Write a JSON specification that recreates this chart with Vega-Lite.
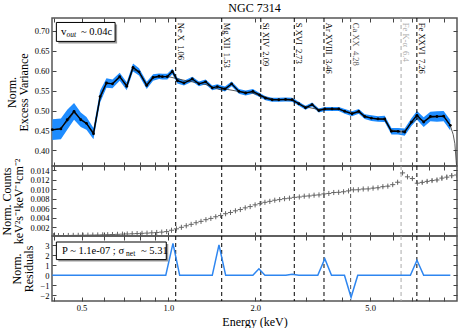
{
"$schema": "https://vega.github.io/schema/vega-lite/v6.json",
"autosize": {"type": "pad"},
"padding": {"left": 0, "top": 0, "right": 0, "bottom": 0},
"background": "white",
"spacing": -2,
"bounds": "flush",
"config": {
  "view": {"stroke": "#555", "strokeWidth": 1.5},
  "axis": {"labelFont": "Liberation Serif", "labelFontSize": 8.5, "labelColor": "#000", "titleFont": "Liberation Serif", "titleFontSize": 12, "titleFontWeight": "normal", "titleColor": "#000", "titleLineHeight": 12, "tickColor": "#444", "tickWidth": 1, "tickSize": -4, "labelPadding": 7, "domain": false, "grid": false, "titlePadding": 4}
},
"datasets": {
  "ev": [
    {"E":0.396,"val":0.452,"err":0.026},{"E":0.424,"val":0.454,"err":0.026},{"E":0.446,"val":0.477,"err":0.025},{"E":0.471,"val":0.498,"err":0.021},{"E":0.497,"val":0.477,"err":0.018},{"E":0.520,"val":0.468,"err":0.016},{"E":0.550,"val":0.442,"err":0.014},{"E":0.580,"val":0.535,"err":0.015},{"E":0.610,"val":0.569,"err":0.012},{"E":0.640,"val":0.567,"err":0.011},{"E":0.678,"val":0.585,"err":0.010},{"E":0.717,"val":0.561,"err":0.010},{"E":0.754,"val":0.608,"err":0.010},{"E":0.791,"val":0.597,"err":0.009},{"E":0.841,"val":0.563,"err":0.009},{"E":0.885,"val":0.583,"err":0.008},{"E":0.928,"val":0.586,"err":0.007},{"E":0.953,"val":0.585,"err":0.007},{"E":0.991,"val":0.585,"err":0.007},{"E":1.032,"val":0.598,"err":0.007},{"E":1.074,"val":0.575,"err":0.007},{"E":1.132,"val":0.569,"err":0.006},{"E":1.210,"val":0.579,"err":0.006},{"E":1.276,"val":0.567,"err":0.006},{"E":1.346,"val":0.572,"err":0.006},{"E":1.419,"val":0.557,"err":0.006},{"E":1.477,"val":0.560,"err":0.006},{"E":1.570,"val":0.554,"err":0.006},{"E":1.656,"val":0.567,"err":0.006},{"E":1.756,"val":0.548,"err":0.006},{"E":1.852,"val":0.544,"err":0.006},{"E":1.962,"val":0.548,"err":0.006},{"E":2.070,"val":0.539,"err":0.005},{"E":2.171,"val":0.531,"err":0.005},{"E":2.288,"val":0.527,"err":0.005},{"E":2.413,"val":0.527,"err":0.005},{"E":2.546,"val":0.528,"err":0.005},{"E":2.684,"val":0.527,"err":0.005},{"E":2.831,"val":0.517,"err":0.005},{"E":2.986,"val":0.507,"err":0.005},{"E":3.147,"val":0.515,"err":0.005},{"E":3.320,"val":0.500,"err":0.005},{"E":3.483,"val":0.504,"err":0.005},{"E":3.691,"val":0.504,"err":0.005},{"E":3.894,"val":0.504,"err":0.005},{"E":4.085,"val":0.498,"err":0.006},{"E":4.329,"val":0.492,"err":0.006},{"E":4.566,"val":0.498,"err":0.006},{"E":4.790,"val":0.485,"err":0.006},{"E":5.052,"val":0.481,"err":0.007},{"E":5.325,"val":0.479,"err":0.007},{"E":5.617,"val":0.479,"err":0.008},{"E":5.926,"val":0.448,"err":0.008},{"E":6.245,"val":0.448,"err":0.008},{"E":6.588,"val":0.446,"err":0.009},{"E":6.950,"val":0.471,"err":0.010},{"E":7.266,"val":0.488,"err":0.011},{"E":7.665,"val":0.471,"err":0.012},{"E":8.086,"val":0.485,"err":0.012},{"E":8.522,"val":0.485,"err":0.013},{"E":8.990,"val":0.486,"err":0.013},{"E":9.481,"val":0.463,"err":0.013}
  ],
  "model": [
    {"E":0.40,"val":0.452},{"E":0.42,"val":0.455},{"E":0.45,"val":0.475},{"E":0.47,"val":0.495},{"E":0.50,"val":0.478},{"E":0.52,"val":0.467},{"E":0.55,"val":0.445},{"E":0.58,"val":0.532},{"E":0.61,"val":0.567},{"E":0.64,"val":0.568},{"E":0.68,"val":0.583},{"E":0.72,"val":0.563},{"E":0.75,"val":0.603},{"E":0.79,"val":0.597},{"E":0.84,"val":0.566},{"E":0.88,"val":0.582},{"E":0.93,"val":0.585},{"E":1.0,"val":0.585},{"E":1.07,"val":0.580},{"E":1.15,"val":0.575},{"E":1.25,"val":0.570},{"E":1.35,"val":0.565},{"E":1.45,"val":0.556},{"E":1.52,"val":0.552},{"E":1.6,"val":0.553},{"E":1.75,"val":0.548},{"E":1.95,"val":0.544},{"E":2.1,"val":0.537},{"E":2.3,"val":0.528},{"E":2.55,"val":0.527},{"E":2.7,"val":0.525},{"E":2.85,"val":0.516},{"E":3.0,"val":0.509},{"E":3.3,"val":0.503},{"E":3.6,"val":0.504},{"E":3.9,"val":0.503},{"E":4.1,"val":0.498},{"E":4.3,"val":0.494},{"E":4.6,"val":0.495},{"E":4.8,"val":0.485},{"E":5.1,"val":0.480},{"E":5.6,"val":0.477},{"E":5.9,"val":0.452},{"E":6.3,"val":0.447},{"E":6.6,"val":0.450},{"E":6.95,"val":0.468},{"E":7.3,"val":0.480},{"E":7.7,"val":0.474},{"E":8.1,"val":0.482},{"E":8.5,"val":0.485},{"E":9.0,"val":0.485},{"E":9.48,"val":0.462},{"E":9.7,"val":0.44},{"E":9.83,"val":0.417},{"E":9.93,"val":0.375},{"E":9.97,"val":0.361}
  ],
  "lines": [
    {"E":1.06,"label":"Ne X\u00a0\u00a01.06","cls":"a"},
    {"E":1.53,"label":"Mg XII\u00a0\u00a01.53","cls":"a"},
    {"E":2.09,"label":"Si XIV\u00a0\u00a02.09","cls":"a"},
    {"E":2.73,"label":"S XVI\u00a0\u00a02.73","cls":"a"},
    {"E":3.46,"label":"Ar XVIII\u00a0\u00a03.46","cls":"a"},
    {"E":4.28,"label":"Ca XX\u00a0\u00a04.28","cls":"b"},
    {"E":6.4,"label":"Fe K-\u03b1\u00a0\u00a06.4","cls":"c"},
    {"E":7.26,"label":"Fe XXVI\u00a0\u00a07.26","cls":"a"}
  ],
  "counts": [
    {"E":0.400,"val":0.00024,"err":0.00003},{"E":0.416,"val":0.00026,"err":0.00003},{"E":0.433,"val":0.00027,"err":0.00003},{"E":0.450,"val":0.00028,"err":0.00003},{"E":0.468,"val":0.00030,"err":0.00003},{"E":0.487,"val":0.00031,"err":0.00003},{"E":0.506,"val":0.00033,"err":0.00003},{"E":0.526,"val":0.00035,"err":0.00003},{"E":0.547,"val":0.00037,"err":0.00003},{"E":0.569,"val":0.00039,"err":0.00003},{"E":0.592,"val":0.00042,"err":0.00003},{"E":0.616,"val":0.00045,"err":0.00003},{"E":0.640,"val":0.00048,"err":0.00003},{"E":0.666,"val":0.00052,"err":0.00003},{"E":0.693,"val":0.00056,"err":0.00003},{"E":0.720,"val":0.00060,"err":0.00003},{"E":0.749,"val":0.00064,"err":0.00003},{"E":0.779,"val":0.00068,"err":0.00003},{"E":0.810,"val":0.00073,"err":0.00003},{"E":0.843,"val":0.00078,"err":0.00003},{"E":0.876,"val":0.00084,"err":0.00003},{"E":0.911,"val":0.00091,"err":0.00003},{"E":0.948,"val":0.00099,"err":0.00003},{"E":0.986,"val":0.00110,"err":0.00003},{"E":1.025,"val":0.00138,"err":0.00005},{"E":1.066,"val":0.00168,"err":0.00005},{"E":1.109,"val":0.00200,"err":0.00005},{"E":1.153,"val":0.00232,"err":0.00005},{"E":1.199,"val":0.00262,"err":0.00005},{"E":1.247,"val":0.00296,"err":0.00005},{"E":1.297,"val":0.00325,"err":0.00005},{"E":1.349,"val":0.00360,"err":0.00005},{"E":1.403,"val":0.00387,"err":0.00005},{"E":1.459,"val":0.00422,"err":0.00005},{"E":1.517,"val":0.00449,"err":0.00005},{"E":1.578,"val":0.00486,"err":0.00005},{"E":1.641,"val":0.00512,"err":0.00005},{"E":1.707,"val":0.00547,"err":0.00005},{"E":1.775,"val":0.00574,"err":0.00005},{"E":1.846,"val":0.00609,"err":0.00005},{"E":1.920,"val":0.00636,"err":0.00005},{"E":1.997,"val":0.00672,"err":0.00005},{"E":2.077,"val":0.00698,"err":0.00005},{"E":2.160,"val":0.00726,"err":0.00005},{"E":2.246,"val":0.00746,"err":0.00005},{"E":2.336,"val":0.00770,"err":0.00005},{"E":2.429,"val":0.00783,"err":0.00005},{"E":2.526,"val":0.00802,"err":0.00005},{"E":2.627,"val":0.00813,"err":0.00005},{"E":2.733,"val":0.00830,"err":0.00005},{"E":2.842,"val":0.00838,"err":0.00005},{"E":2.956,"val":0.00855,"err":0.00005},{"E":3.074,"val":0.00860,"err":0.00008},{"E":3.197,"val":0.00876,"err":0.00008},{"E":3.325,"val":0.00882,"err":0.00008},{"E":3.458,"val":0.00903,"err":0.00008},{"E":3.596,"val":0.00912,"err":0.00008},{"E":3.740,"val":0.00932,"err":0.00008},{"E":3.890,"val":0.00936,"err":0.00008},{"E":4.045,"val":0.00948,"err":0.00008},{"E":4.207,"val":0.00966,"err":0.00008},{"E":4.375,"val":0.00988,"err":0.00008},{"E":4.550,"val":0.00990,"err":0.00008},{"E":4.732,"val":0.01006,"err":0.00008},{"E":4.922,"val":0.01008,"err":0.00008},{"E":5.118,"val":0.01024,"err":0.00015},{"E":5.323,"val":0.01032,"err":0.00015},{"E":5.536,"val":0.01055,"err":0.00015},{"E":5.758,"val":0.01066,"err":0.00015},{"E":5.988,"val":0.01098,"err":0.00015},{"E":6.227,"val":0.01148,"err":0.00025},{"E":6.476,"val":0.01345,"err":0.00025},{"E":6.736,"val":0.01262,"err":0.00025},{"E":7.005,"val":0.01226,"err":0.00025},{"E":7.285,"val":0.01128,"err":0.00025},{"E":7.577,"val":0.01145,"err":0.00035},{"E":7.880,"val":0.01166,"err":0.00035},{"E":8.195,"val":0.01184,"err":0.00035},{"E":8.523,"val":0.01196,"err":0.00035},{"E":8.864,"val":0.01235,"err":0.0005},{"E":9.218,"val":0.01255,"err":0.0005},{"E":9.587,"val":0.01285,"err":0.0005},{"E":9.970,"val":0.01300,"err":0.0005}
  ],
  "resid": [
    {"E":0.396,"val":0},{"E":0.979,"val":0},{"E":1.037,"val":3.2},{"E":1.094,"val":0},{"E":1.419,"val":0},{"E":1.497,"val":3.05},{"E":1.579,"val":0},{"E":1.962,"val":0},{"E":2.059,"val":0.65},{"E":2.160,"val":0},{"E":2.552,"val":0},{"E":2.684,"val":0.1},{"E":2.831,"val":0},{"E":3.293,"val":0},{"E":3.483,"val":1.65},{"E":3.674,"val":0},{"E":4.074,"val":0},{"E":4.295,"val":-2.2},{"E":4.530,"val":0},{"E":6.894,"val":0},{"E":7.266,"val":1.5},{"E":7.665,"val":0},{"E":9.481,"val":0}
  ],
  "box1": [{"E":0.409,"E2":0.6535,"val":0.7208,"val2":0.6733}],
  "ann1": [{"E":0.424,"val":0.6975}],
  "box2": [{"E":0.409,"E2":0.983,"val":3.33,"val2":1.57}],
  "ann2": [{"E":0.428,"val":2.45}]
},
"vconcat": [
{
  "width": 405, "height": 148,
  "title": {"text": "NGC 7314", "font": "Liberation Serif", "fontSize": 12, "fontWeight": "normal", "color": "#000", "offset": 3, "anchor": "middle"},
  "encoding": {"x": {"field": "E", "type": "quantitative", "scale": {"type": "log", "domain": [0.395, 10]}, "axis": null}},
  "layer": [
    {"data": {"name": "ev"}, "mark": {"type": "errorband", "band": {"color": "#1e8cff", "opacity": 1}},
     "encoding": {"y": {"field": "val", "type": "quantitative", "scale": {"domain": [0.361, 0.732], "zero": false}, "axis": null}, "yError": {"field": "err"}}},
    {"data": {"name": "model"}, "mark": {"type": "line", "color": "#333", "strokeWidth": 0.8, "clip": true},
     "encoding": {"y": {"field": "val", "type": "quantitative", "scale": {"domain": [0.361, 0.732], "zero": false}, "axis": null}}},
    {"data": {"name": "ev"}, "mark": {"type": "line", "color": "#000", "strokeWidth": 1.4},
     "encoding": {
       "x": {"field": "E", "type": "quantitative", "scale": {"type": "log", "domain": [0.395, 10]}, "axis": {"orient": "bottom", "labels": false, "title": null, "values": [0.4,0.5,0.6,0.7,0.8,0.9,1,2,3,4,5,6,7,8,9]}},
       "y": {"field": "val", "type": "quantitative", "scale": {"domain": [0.361, 0.732], "zero": false}, "axis": {"orient": "left", "values": [0.4,0.45,0.5,0.55,0.6,0.65,0.7], "format": ".2f", "title": ["Norm.", "Excess Variance"]}}}},
    {"data": {"name": "ev"}, "mark": {"type": "point", "filled": true, "color": "#000", "size": 8, "opacity": 1},
     "encoding": {
       "x": {"field": "E", "type": "quantitative", "scale": {"type": "log", "domain": [0.395, 10]}, "axis": {"orient": "top", "labels": false, "title": null, "values": [0.4,0.5,0.6,0.7,0.8,0.9,1,2,3,4,5,6,7,8,9]}},
       "y": {"field": "val", "type": "quantitative", "scale": {"domain": [0.361, 0.732], "zero": false}, "axis": {"orient": "right", "labels": false, "title": null, "values": [0.4,0.45,0.5,0.55,0.6,0.65,0.7]}}}},
    {"data": {"name": "lines"}, "mark": {"type": "rule", "strokeDash": [4, 3], "strokeWidth": 1},
     "encoding": {"color": {"field": "cls", "type": "nominal", "scale": {"domain": ["a","b","c"], "range": ["#000","#555","#aaa"]}, "legend": null}}},
    {"data": {"name": "lines"}, "mark": {"type": "text", "angle": 90, "align": "left", "baseline": "bottom", "dy": 0, "font": "Liberation Serif", "fontSize": 8.5},
     "encoding": {"y": {"datum": 0.72, "type": "quantitative", "scale": {"domain": [0.361, 0.732], "zero": false}, "axis": null}, "text": {"field": "label"},
       "color": {"field": "cls", "type": "nominal", "scale": {"domain": ["a","b","c"], "range": ["#000","#555","#aaa"]}, "legend": null}}},
    {"data": {"name": "box1"}, "mark": {"type": "rect", "fill": "#999", "xOffset": 2, "x2Offset": 2, "yOffset": 2, "y2Offset": 2},
     "encoding": {"x2": {"field": "E2"}, "y": {"field": "val", "type": "quantitative", "scale": {"domain": [0.361, 0.732], "zero": false}, "axis": null}, "y2": {"field": "val2"}}},
    {"data": {"name": "box1"}, "mark": {"type": "rect", "fill": "white", "stroke": "#000", "strokeWidth": 1},
     "encoding": {"x2": {"field": "E2"}, "y": {"field": "val", "type": "quantitative", "scale": {"domain": [0.361, 0.732], "zero": false}, "axis": null}, "y2": {"field": "val2"}}},
    {"data": {"name": "ann1"}, "mark": {"type": "text", "text": "v", "align": "left", "baseline": "middle", "font": "Liberation Serif", "fontSize": 11, "color": "#000"},
     "encoding": {"y": {"field": "val", "type": "quantitative", "scale": {"domain": [0.361, 0.732], "zero": false}, "axis": null}}},
    {"data": {"name": "ann1"}, "mark": {"type": "text", "text": "out", "align": "left", "baseline": "middle", "font": "Liberation Serif", "fontStyle": "italic", "fontSize": 7.5, "dx": 5.5, "dy": 3, "color": "#000"},
     "encoding": {"y": {"field": "val", "type": "quantitative", "scale": {"domain": [0.361, 0.732], "zero": false}, "axis": null}}},
    {"data": {"name": "ann1"}, "mark": {"type": "text", "text": "~ 0.04c", "align": "left", "baseline": "middle", "font": "Liberation Serif", "fontSize": 10.5, "dx": 20, "color": "#000"},
     "encoding": {"y": {"field": "val", "type": "quantitative", "scale": {"domain": [0.361, 0.732], "zero": false}, "axis": null}}}
  ],
  "resolve": {"axis": {"x": "independent", "y": "independent"}}
},
{
  "width": 405, "height": 70,
  "encoding": {"x": {"field": "E", "type": "quantitative", "scale": {"type": "log", "domain": [0.395, 10]}, "axis": null}},
  "layer": [
    {"data": {"name": "lines"}, "mark": {"type": "rule", "strokeDash": [4, 3], "strokeWidth": 1},
     "encoding": {"color": {"field": "cls", "type": "nominal", "scale": {"domain": ["a","b","c"], "range": ["#000","#555","#aaa"]}, "legend": null}}},
    {"data": {"name": "counts"}, "mark": {"type": "errorbar", "color": "#777", "thickness": 1},
     "encoding": {"y": {"field": "val", "type": "quantitative", "scale": {"domain": [0.00017, 0.0149], "zero": false}, "axis": null}, "yError": {"field": "err"}}},
    {"data": {"name": "counts"}, "mark": {"type": "point", "shape": "M-1,0L1,0M0,-1L0,1", "size": 26, "filled": false, "stroke": "#666", "strokeWidth": 1, "opacity": 1, "clip": true},
     "encoding": {
       "x": {"field": "E", "type": "quantitative", "scale": {"type": "log", "domain": [0.395, 10]}, "axis": {"orient": "bottom", "labels": false, "title": null, "values": [0.4,0.5,0.6,0.7,0.8,0.9,1,2,3,4,5,6,7,8,9]}},
       "y": {"field": "val", "type": "quantitative", "scale": {"domain": [0.00017, 0.0149], "zero": false}, "axis": {"orient": "left", "values": [0.002,0.004,0.006,0.008,0.010,0.012,0.014], "format": ".3f", "title": ["Norm. Counts", "keV\u00b2s\u207b\u00b9keV\u207b\u00b9cm\u207b\u00b2"]}}}},
    {"data": {"name": "counts"}, "mark": {"type": "point", "opacity": 0},
     "encoding": {
       "x": {"field": "E", "type": "quantitative", "scale": {"type": "log", "domain": [0.395, 10]}, "axis": {"orient": "top", "labels": false, "title": null, "values": [0.4,0.5,0.6,0.7,0.8,0.9,1,2,3,4,5,6,7,8,9]}},
       "y": {"field": "val", "type": "quantitative", "scale": {"domain": [0.00017, 0.0149], "zero": false}, "axis": {"orient": "right", "labels": false, "title": null, "values": [0.002,0.004,0.006,0.008,0.010,0.012,0.014]}}}}
  ],
  "resolve": {"axis": {"x": "independent", "y": "independent"}}
},
{
  "width": 405, "height": 65,
  "encoding": {"x": {"field": "E", "type": "quantitative", "scale": {"type": "log", "domain": [0.395, 10]}, "axis": null}},
  "layer": [
    {"data": {"name": "lines"}, "mark": {"type": "rule", "strokeDash": [4, 3], "strokeWidth": 1},
     "encoding": {"color": {"field": "cls", "type": "nominal", "scale": {"domain": ["a","b","c"], "range": ["#000","#555","#aaa"]}, "legend": null}}},
    {"data": {"name": "resid"}, "mark": {"type": "line", "color": "#2e86f0", "strokeWidth": 1.5},
     "encoding": {
       "x": {"field": "E", "type": "quantitative", "scale": {"type": "log", "domain": [0.395, 10]}, "axis": {"orient": "bottom", "labelPadding": 6.5, "title": "Energy (keV)", "values": [0.4,0.5,0.6,0.7,0.8,0.9,1,2,3,4,5,6,7,8,9], "labelExpr": "indexof([0.5,1,2,5], datum.value) >= 0 ? format(datum.value, '.1f') : ''"}},
       "y": {"field": "val", "type": "quantitative", "scale": {"domain": [-2.57, 3.93], "zero": false}, "axis": {"orient": "left", "values": [-2,-1,0,1,2,3], "format": "d", "title": ["Norm.", "Residuals"]}}}},
    {"data": {"name": "resid"}, "mark": {"type": "point", "opacity": 0},
     "encoding": {
       "x": {"field": "E", "type": "quantitative", "scale": {"type": "log", "domain": [0.395, 10]}, "axis": {"orient": "top", "labels": false, "title": null, "values": [0.4,0.5,0.6,0.7,0.8,0.9,1,2,3,4,5,6,7,8,9]}},
       "y": {"field": "val", "type": "quantitative", "scale": {"domain": [-2.57, 3.93], "zero": false}, "axis": {"orient": "right", "labels": false, "title": null, "values": [-2,-1,0,1,2,3]}}}},
    {"data": {"name": "box2"}, "mark": {"type": "rect", "fill": "#999", "xOffset": 2, "x2Offset": 2, "yOffset": 2, "y2Offset": 2},
     "encoding": {"x2": {"field": "E2"}, "y": {"field": "val", "type": "quantitative", "scale": {"domain": [-2.57, 3.93], "zero": false}, "axis": null}, "y2": {"field": "val2"}}},
    {"data": {"name": "box2"}, "mark": {"type": "rect", "fill": "white", "stroke": "#000", "strokeWidth": 1},
     "encoding": {"x2": {"field": "E2"}, "y": {"field": "val", "type": "quantitative", "scale": {"domain": [-2.57, 3.93], "zero": false}, "axis": null}, "y2": {"field": "val2"}}},
    {"data": {"name": "ann2"}, "mark": {"type": "text", "text": "P ~ 1.1e-07 ; \u03c3", "align": "left", "baseline": "middle", "font": "Liberation Serif", "fontSize": 10.5, "color": "#000"},
     "encoding": {"y": {"field": "val", "type": "quantitative", "scale": {"domain": [-2.57, 3.93], "zero": false}, "axis": null}}},
    {"data": {"name": "ann2"}, "mark": {"type": "text", "text": "net", "align": "left", "baseline": "middle", "font": "Liberation Serif", "fontSize": 7.5, "dx": 64, "dy": 3, "color": "#000"},
     "encoding": {"y": {"field": "val", "type": "quantitative", "scale": {"domain": [-2.57, 3.93], "zero": false}, "axis": null}}},
    {"data": {"name": "ann2"}, "mark": {"type": "text", "text": "~ 5.31", "align": "left", "baseline": "middle", "font": "Liberation Serif", "fontSize": 10.5, "dx": 79, "color": "#000"},
     "encoding": {"y": {"field": "val", "type": "quantitative", "scale": {"domain": [-2.57, 3.93], "zero": false}, "axis": null}}}
  ],
  "resolve": {"axis": {"x": "independent", "y": "independent"}}
}
]
}
